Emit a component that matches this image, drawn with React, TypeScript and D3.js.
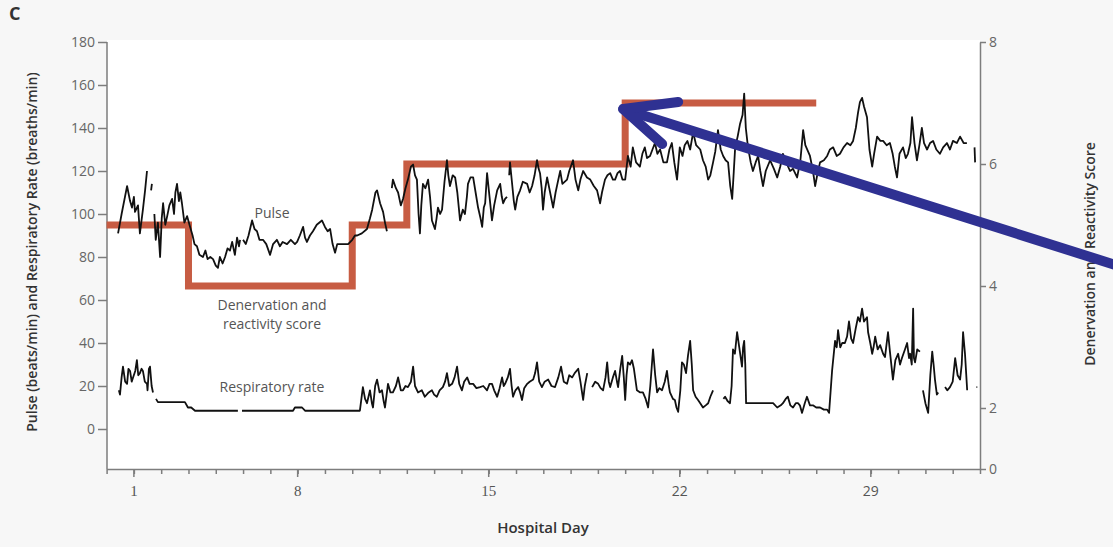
import React, { useRef, useEffect } from 'react';
import * as d3 from 'd3';

// [hospital day, beats/min]; null = gap in the recording
const pulseData: ([number, number] | null)[] = [
  [1.42, 91], [1.55, 100], [1.75, 113], [1.86, 106], [1.93, 103], [2.0, 108], [2.04, 101], [2.15, 104], [2.22, 91],
  [2.33, 102], [2.41, 111], [2.48, 120], null,
  [2.63, 111], [2.66, 114], null,
  [2.75, 100], [2.8, 88], [2.88, 96], [2.96, 80], [3.02, 98], [3.07, 105], [3.15, 95], [3.22, 99], [3.3, 104], [3.4, 107],
  [3.47, 100], [3.52, 110], [3.58, 114], [3.65, 106], [3.7, 110], [3.76, 105], [3.85, 96], [3.95, 99], [4.06, 94],
  [4.15, 90], [4.22, 86], [4.31, 85], [4.4, 81], [4.53, 80], [4.62, 83], [4.7, 79], [4.8, 80], [4.9, 79], [5.0, 76],
  [5.08, 75], [5.15, 80], [5.25, 77], [5.34, 80], [5.43, 84], [5.52, 83], [5.6, 87], [5.7, 81], [5.78, 89], [5.85, 85],
  [5.89, 88], null,
  [6.0, 88], [6.1, 86], [6.2, 90], [6.33, 97], [6.42, 93], [6.51, 92], [6.6, 88], [6.73, 88], [6.85, 86], [6.99, 81],
  [7.1, 86], [7.24, 88], [7.35, 85], [7.45, 87], [7.61, 86], [7.75, 88], [7.9, 86], [7.98, 87], [8.08, 90], [8.2, 94],
  [8.27, 89], [8.34, 87], [8.45, 90], [8.56, 92], [8.7, 95], [8.89, 97], [9.0, 94], [9.1, 92], [9.19, 93], [9.28, 86],
  [9.37, 82], [9.45, 86], [9.55, 86], [9.7, 86], [9.85, 86], [10.0, 88], [10.1, 90], [10.18, 90], [10.35, 91],
  [10.54, 93], [10.65, 98], [10.73, 102], [10.85, 110], [10.91, 111], [11.02, 105], [11.13, 101], [11.2, 96],
  [11.27, 92], null,
  [11.45, 112], [11.49, 116], [11.6, 112], [11.68, 110], [11.78, 104], [11.86, 107], [11.95, 112], [12.04, 116],
  [12.15, 122], [12.23, 123], [12.3, 118], [12.37, 116], [12.43, 100], [12.48, 91], [12.53, 104], [12.59, 114],
  [12.68, 112], [12.78, 116], [12.85, 108], [12.92, 97], [13.03, 93], [13.09, 98], [13.14, 103], [13.22, 100],
  [13.29, 102], [13.38, 115], [13.47, 125], [13.52, 118], [13.58, 113], [13.68, 118], [13.77, 117], [13.85, 110],
  [13.95, 97], [14.05, 102], [14.13, 100], [14.2, 108], [14.24, 114], [14.33, 117], [14.43, 117], [14.52, 110],
  [14.61, 103], [14.7, 98], [14.76, 94], [14.82, 103], [14.87, 105], [14.94, 119], [15.03, 108], [15.12, 97],
  [15.2, 104], [15.31, 111], [15.42, 114], [15.48, 108], [15.53, 105], [15.6, 107], [15.67, 108], null,
  [15.75, 118], [15.78, 124], [15.85, 115], [15.92, 106], [15.97, 102], [16.05, 108], [16.15, 111], [16.25, 115],
  [16.41, 114], [16.5, 110], [16.59, 113], [16.68, 118], [16.77, 125], [16.83, 121], [16.88, 119], [16.94, 112],
  [16.99, 102], [17.05, 110], [17.14, 117], [17.25, 110], [17.36, 103], [17.45, 110], [17.55, 116], [17.62, 120],
  [17.7, 114], [17.87, 116], [17.95, 120], [18.09, 125], [18.18, 116], [18.28, 111], [18.36, 116], [18.46, 120],
  [18.6, 117], [18.72, 116], [18.85, 113], [18.97, 111], [19.08, 105], [19.15, 110], [19.26, 116], [19.35, 118],
  [19.45, 119], [19.55, 116], [19.63, 116], [19.72, 119], [19.81, 120], [19.9, 116], [20.0, 116], [20.1, 127],
  [20.2, 122], [20.28, 131], [20.4, 124], [20.54, 122], [20.63, 128], [20.72, 131], [20.8, 126], [20.91, 127],
  [21.0, 130], [21.09, 133], [21.18, 128], [21.28, 130], [21.4, 124], [21.53, 124], [21.62, 130], [21.71, 133],
  [21.8, 124], [21.9, 116], [22.0, 131], [22.1, 127], [22.18, 132], [22.28, 134], [22.38, 130], [22.49, 138],
  [22.6, 132], [22.75, 130], [22.85, 125], [22.95, 122], [23.04, 116], [23.12, 118], [23.22, 124], [23.3, 129],
  [23.4, 139], [23.5, 130], [23.59, 127], [23.68, 125], [23.77, 124], [23.85, 113], [23.92, 107], [23.98, 120],
  [24.03, 131], [24.12, 136], [24.21, 142], [24.3, 146], [24.36, 156], [24.42, 140], [24.5, 131], [24.6, 124],
  [24.68, 120], [24.78, 124], [24.87, 127], [24.95, 120], [25.05, 113], [25.15, 120], [25.31, 125], [25.45, 121],
  [25.57, 117], [25.68, 122], [25.78, 128], [25.9, 124], [26.04, 120], [26.15, 121], [26.3, 117], [26.42, 125],
  [26.52, 139], [26.6, 132], [26.77, 127], [26.88, 120], [26.96, 113], [27.05, 119], [27.14, 124], [27.28, 125],
  [27.4, 127], [27.5, 130], [27.62, 131], [27.75, 127], [27.87, 128], [28.0, 131], [28.13, 133], [28.25, 132],
  [28.35, 134], [28.45, 140], [28.53, 147], [28.6, 152], [28.68, 154], [28.75, 150], [28.86, 145], [28.95, 130],
  [29.05, 122], [29.12, 128], [29.23, 136], [29.35, 134], [29.45, 134], [29.58, 132], [29.7, 133], [29.8, 128],
  [29.88, 122], [29.96, 117], [30.05, 128], [30.18, 131], [30.28, 126], [30.36, 128], [30.45, 133], [30.51, 145],
  [30.6, 133], [30.69, 125], [30.78, 132], [30.87, 140], [30.95, 133], [31.06, 130], [31.17, 133], [31.28, 134],
  [31.4, 130], [31.53, 128], [31.65, 131], [31.79, 133], [31.9, 130], [32.01, 134], [32.15, 133], [32.27, 136],
  [32.4, 133], [32.52, 133], null,
  [32.8, 131], [32.82, 124],
];

// [hospital day, breaths/min]
const respData: ([number, number] | null)[] = [
  [1.45, 18], [1.49, 16], [1.55, 24], [1.6, 29], [1.68, 22], [1.75, 21], [1.8, 28], [1.86, 27], [1.92, 22], [1.97, 24],
  [2.05, 27], [2.11, 32], [2.16, 25], [2.22, 26], [2.28, 28], [2.33, 27], [2.4, 22], [2.48, 21], [2.5, 18], [2.55, 28],
  [2.59, 29], [2.65, 20], [2.7, 17], null,
  [2.81, 14], [2.88, 12.5], [3.87, 12.5], [3.98, 10], [4.1, 10], [4.24, 8.5], [5.81, 8.5], null,
  [5.96, 8.5], [7.83, 8.5], [7.9, 10], [8.16, 10], [8.27, 8.5], [10.28, 8.5], [10.39, 19.5], [10.47, 14], [10.54, 12],
  [10.65, 18], [10.72, 12], [10.76, 10], [10.84, 20], [10.91, 23], [11.0, 17], [11.09, 18], [11.15, 13], [11.2, 10],
  [11.31, 21], [11.4, 17], [11.49, 17], [11.6, 20], [11.68, 24], [11.78, 18], [11.86, 18], [11.95, 20], [12.04, 19.5],
  [12.15, 22], [12.23, 29], [12.3, 20], [12.41, 17], [12.55, 18], [12.66, 15], [12.8, 17], [12.92, 18], [13.0, 16],
  [13.1, 15], [13.2, 18], [13.32, 19.5], [13.4, 22], [13.47, 26], [13.55, 20], [13.66, 21], [13.75, 24], [13.84, 29],
  [13.92, 21], [14.02, 18], [14.1, 22], [14.21, 24], [14.3, 21], [14.43, 21], [14.55, 19], [14.68, 19.5], [14.8, 20],
  [14.94, 18], [15.03, 21], [15.12, 21], [15.2, 18], [15.31, 15], [15.4, 19], [15.49, 24], [15.55, 20], [15.6, 21],
  [15.7, 24], [15.78, 28], [15.84, 20], [15.89, 15], [15.98, 18], [16.08, 19.5], [16.15, 17], [16.22, 13.5], [16.3, 19],
  [16.41, 21], [16.5, 22], [16.63, 23], [16.7, 26], [16.77, 31], [16.85, 22], [16.95, 19.5], [17.05, 22], [17.18, 23],
  [17.3, 20], [17.43, 19.5], [17.55, 24], [17.65, 29], [17.75, 22], [17.87, 21], [17.95, 25], [18.06, 24], [18.15, 26],
  [18.28, 28], [18.36, 22], [18.46, 13.5], [18.52, 20], [18.61, 26], null,
  [18.79, 19.5], [18.9, 22], [19.01, 21], [19.1, 19], [19.19, 18], [19.28, 24], [19.34, 31], [19.4, 22], [19.45, 19.5],
  [19.55, 24], [19.63, 27], [19.7, 22], [19.74, 19.5], [19.82, 28], [19.89, 34], [19.95, 24], [20.0, 13.5], [20.05, 25],
  [20.1, 31], [20.18, 30], [20.25, 32], [20.32, 28], [20.43, 18], [20.55, 17], [20.65, 17], [20.75, 14], [20.84, 10],
  [20.92, 20], [21.02, 37], [21.1, 25], [21.17, 17], [21.25, 19], [21.35, 18], [21.45, 22], [21.53, 27], [21.6, 20],
  [21.64, 17], [21.75, 14], [21.82, 13.5], [21.88, 10], [21.94, 8], [22.02, 18], [22.08, 31], [22.15, 30], [22.23, 26],
  [22.3, 34], [22.38, 41], [22.44, 30], [22.49, 18], [22.58, 15], [22.67, 13.5], [22.75, 12], [22.85, 10], [22.95, 11],
  [23.04, 12], [23.12, 15], [23.22, 18], null,
  [23.6, 14], [23.66, 15], [23.75, 13], [23.84, 12], [23.9, 20], [23.95, 37], [24.02, 35], [24.1, 45], [24.18, 38],
  [24.28, 29], [24.32, 38], [24.36, 41], [24.4, 30], [24.43, 12], [25.42, 12], [25.57, 10], [25.7, 11], [25.78, 12],
  [25.88, 14], [25.96, 15], [26.05, 11], [26.15, 10], [26.25, 12], [26.33, 12], [26.4, 11], [26.48, 7.5], [26.58, 12],
  [26.66, 15], [26.77, 11], [26.88, 11], [27.0, 10], [27.14, 10], [27.28, 9], [27.4, 9], [27.47, 7.5], [27.58, 27],
  [27.69, 41], [27.75, 38], [27.8, 46], [27.88, 38], [27.95, 40], [28.05, 40], [28.13, 43], [28.2, 50], [28.28, 42],
  [28.35, 40], [28.45, 47], [28.53, 52], [28.6, 50], [28.68, 56], [28.75, 50], [28.86, 52], [28.9, 45], [28.98, 40],
  [29.05, 35], [29.1, 38], [29.16, 43], [29.25, 37], [29.34, 39], [29.45, 35], [29.52, 33.5], [29.63, 45], [29.7, 36],
  [29.81, 23], [29.9, 32], [30.0, 35], [30.07, 30], [30.14, 33], [30.25, 37], [30.33, 40], [30.4, 33], [30.44, 35],
  [30.5, 30], [30.55, 56], [30.58, 33], [30.62, 31], [30.7, 37], [30.8, 36], null,
  [30.91, 18], [31.0, 12], [31.1, 7.5], [31.18, 25], [31.25, 36], [31.3, 30], [31.35, 23], [31.42, 16], [31.47, 17], null,
  [31.72, 19.5], [31.8, 18], [31.9, 19.5], [32.0, 22], [32.09, 33], [32.18, 25], [32.27, 23], [32.33, 30], [32.38, 45],
  [32.45, 35], [32.53, 18], null,
  [32.87, 19.5], [32.9, 19.5],
];

// denervation and reactivity score (step changes)
const scoreDays = [1, 4, 10, 12, 20, 27];
const scoreValues = [5, 4, 5, 6, 7, 7];

const leftTicks = [0, 20, 40, 60, 80, 100, 120, 140, 160, 180];
const rightTicks = [0, 2, 4, 6, 8];
const dayTicks = d3.range(1, 34);
// labelled ticks (the first label sits one tick in, as in the figure)
const labelDays = [2, 8, 15, 22, 29];
const labelText = ['1', '8', '15', '22', '29'];
const labelSerif = [true, true, true, false, false];

const App = () => {
  const ref = useRef<SVGSVGElement>(null);

  useEffect(() => {
    const width = 1113;
    const height = 547;
    const left = 107, right = 980, top = 40, bottom = 469;
    const font = '"Open Sans", "Noto Sans", sans-serif';
    const axisColor = '#7d7d7d';
    const textColor = '#555';

    const svg = d3.select(ref.current);
    svg.selectAll('*').remove();
    svg.attr('width', width).attr('height', height);

    //background + plot area
    svg.append('rect').attr('width', width).attr('height', height).attr('fill', '#f7f7f7');
    svg.append('rect')
      .attr('x', left).attr('y', top)
      .attr('width', right - left).attr('height', bottom - top)
      .attr('fill', '#fff');

    //scales
    const x = d3.scaleLinear().domain([1, 33]).range([106.6, right]);
    const yL = d3.scaleLinear().domain([0, 180]).range([429, 42]);
    const yR = d3.scaleLinear().domain([0, 2, 8]).range([bottom, 408, 42]);

    //left axis
    const gl = svg.append('g')
      .attr('transform', `translate(${left},0)`)
      .call(d3.axisLeft(yL).tickValues(leftTicks).tickSize(9).tickPadding(3));
    gl.select('.domain').remove();
    gl.append('line').attr('y1', 42).attr('y2', bottom).attr('stroke', axisColor).attr('stroke-width', 1.5);
    gl.selectAll('.tick line').attr('stroke', axisColor).attr('stroke-width', 1.5);
    gl.selectAll('.tick text')
      .style('font-family', font).style('font-size', '14px').attr('fill', '#666');

    //right axis
    const gr = svg.append('g')
      .attr('transform', `translate(${right},0)`)
      .call(d3.axisRight(yR).tickValues(rightTicks).tickSize(6).tickSizeOuter(0).tickPadding(3));
    gr.select('.domain').attr('stroke', axisColor).attr('stroke-width', 1.5);
    gr.selectAll('.tick line').attr('stroke', axisColor).attr('stroke-width', 1.5);
    gr.selectAll('.tick text')
      .style('font-family', font).style('font-size', '14px').attr('fill', '#666');

    //bottom axis: one tick per day
    const gb = svg.append('g')
      .attr('transform', `translate(0,${bottom})`)
      .call(d3.axisBottom(x).tickValues(dayTicks).tickSize(5).tickSizeOuter(0).tickFormat(() => ''));
    gb.select('.domain').attr('stroke', axisColor).attr('stroke-width', 1.5);
    gb.selectAll('.tick line').attr('stroke', axisColor).attr('stroke-width', 1.5);
    labelDays.forEach((d, i) => {
      gb.append('line')
        .attr('x1', x(d)).attr('x2', x(d)).attr('y1', 0).attr('y2', 8)
        .attr('stroke', axisColor).attr('stroke-width', 1.5);
      gb.append('text')
        .attr('x', x(d)).attr('y', 27)
        .attr('text-anchor', 'middle')
        .style('font-family', labelSerif[i] ? '"Liberation Serif", serif' : font)
        .style('font-size', labelSerif[i] ? '15px' : '14px')
        .attr('fill', '#555')
        .text(labelText[i]);
    });

    //score step line
    const stepLine = d3.line<number>()
      .x((_, i) => x(scoreDays[i]))
      .y(d => yR(d))
      .curve(d3.curveStepAfter);
    svg.append('path')
      .attr('d', stepLine(scoreValues))
      .attr('fill', 'none')
      .attr('stroke', '#c75c43')
      .attr('stroke-width', 7)
      .attr('stroke-linejoin', 'miter')
      .attr('stroke-linecap', 'butt');

    //pulse + respiratory traces
    const trace = (yScale: d3.ScaleLinear<number, number>) =>
      d3.line<[number, number] | null>()
        .defined(d => d !== null)
        .x(d => x((d as [number, number])[0]))
        .y(d => yScale((d as [number, number])[1]));
    [pulseData, respData].forEach(series => {
      svg.append('path')
        .attr('d', trace(yL)(series))
        .attr('fill', 'none')
        .attr('stroke', '#111')
        .attr('stroke-width', 1.8)
        .attr('stroke-linejoin', 'round');
    });

    //series labels
    const note = (tx: number, ty: number, t: string) =>
      svg.append('text')
        .attr('x', tx).attr('y', ty)
        .attr('text-anchor', 'middle')
        .style('font-family', font).style('font-size', '14px')
        .attr('fill', textColor)
        .text(t);
    note(272, 218, 'Pulse');
    note(272, 310, 'Denervation and');
    note(272, 329, 'reactivity score');
    note(272, 392, 'Respiratory rate');

    //axis titles
    svg.append('text')
      .attr('transform', `translate(37,252) rotate(-90)`)
      .attr('text-anchor', 'middle')
      .style('font-family', font).style('font-size', '14px').style('font-weight', 600)
      .attr('fill', '#333')
      .text('Pulse (beats/min) and Respiratory Rate (breaths/min)');
    svg.append('text')
      .attr('transform', `translate(1095,254) rotate(-90)`)
      .attr('text-anchor', 'middle')
      .style('font-family', font).style('font-size', '14px').style('font-weight', 600)
      .attr('fill', '#333')
      .text('Denervation and Reactivity Score');
    svg.append('text')
      .attr('x', 543).attr('y', 533)
      .attr('text-anchor', 'middle')
      .style('font-family', font).style('font-size', '15px').style('font-weight', 600)
      .attr('fill', '#333')
      .text('Hospital Day');
    svg.append('text')
      .attr('x', 9).attr('y', 20)
      .style('font-family', font).style('font-size', '18px').style('font-weight', 700)
      .attr('fill', '#333')
      .text('C');

    //pointer arrow to the score rise on day 20
    const tip: [number, number] = [x(20) - 2, yR(7) + 6];
    const arrow = svg.append('g')
      .attr('fill', 'none')
      .attr('stroke', '#2f3192')
      .attr('stroke-width', 10)
      .attr('stroke-linecap', 'round')
      .attr('stroke-linejoin', 'round');
    arrow.append('line')
      .attr('x1', tip[0]).attr('y1', tip[1])
      .attr('x2', 1125).attr('y2', 268);
    arrow.append('path')
      .attr('d', `M${tip[0] + 55},${tip[1] - 7} L${tip[0]},${tip[1]} L${tip[0] + 39},${tip[1] + 35}`);
  }, []);

  return <svg ref={ref} style={{ position: 'absolute', left: 0, top: 0 }}></svg>;
};

export default App;
